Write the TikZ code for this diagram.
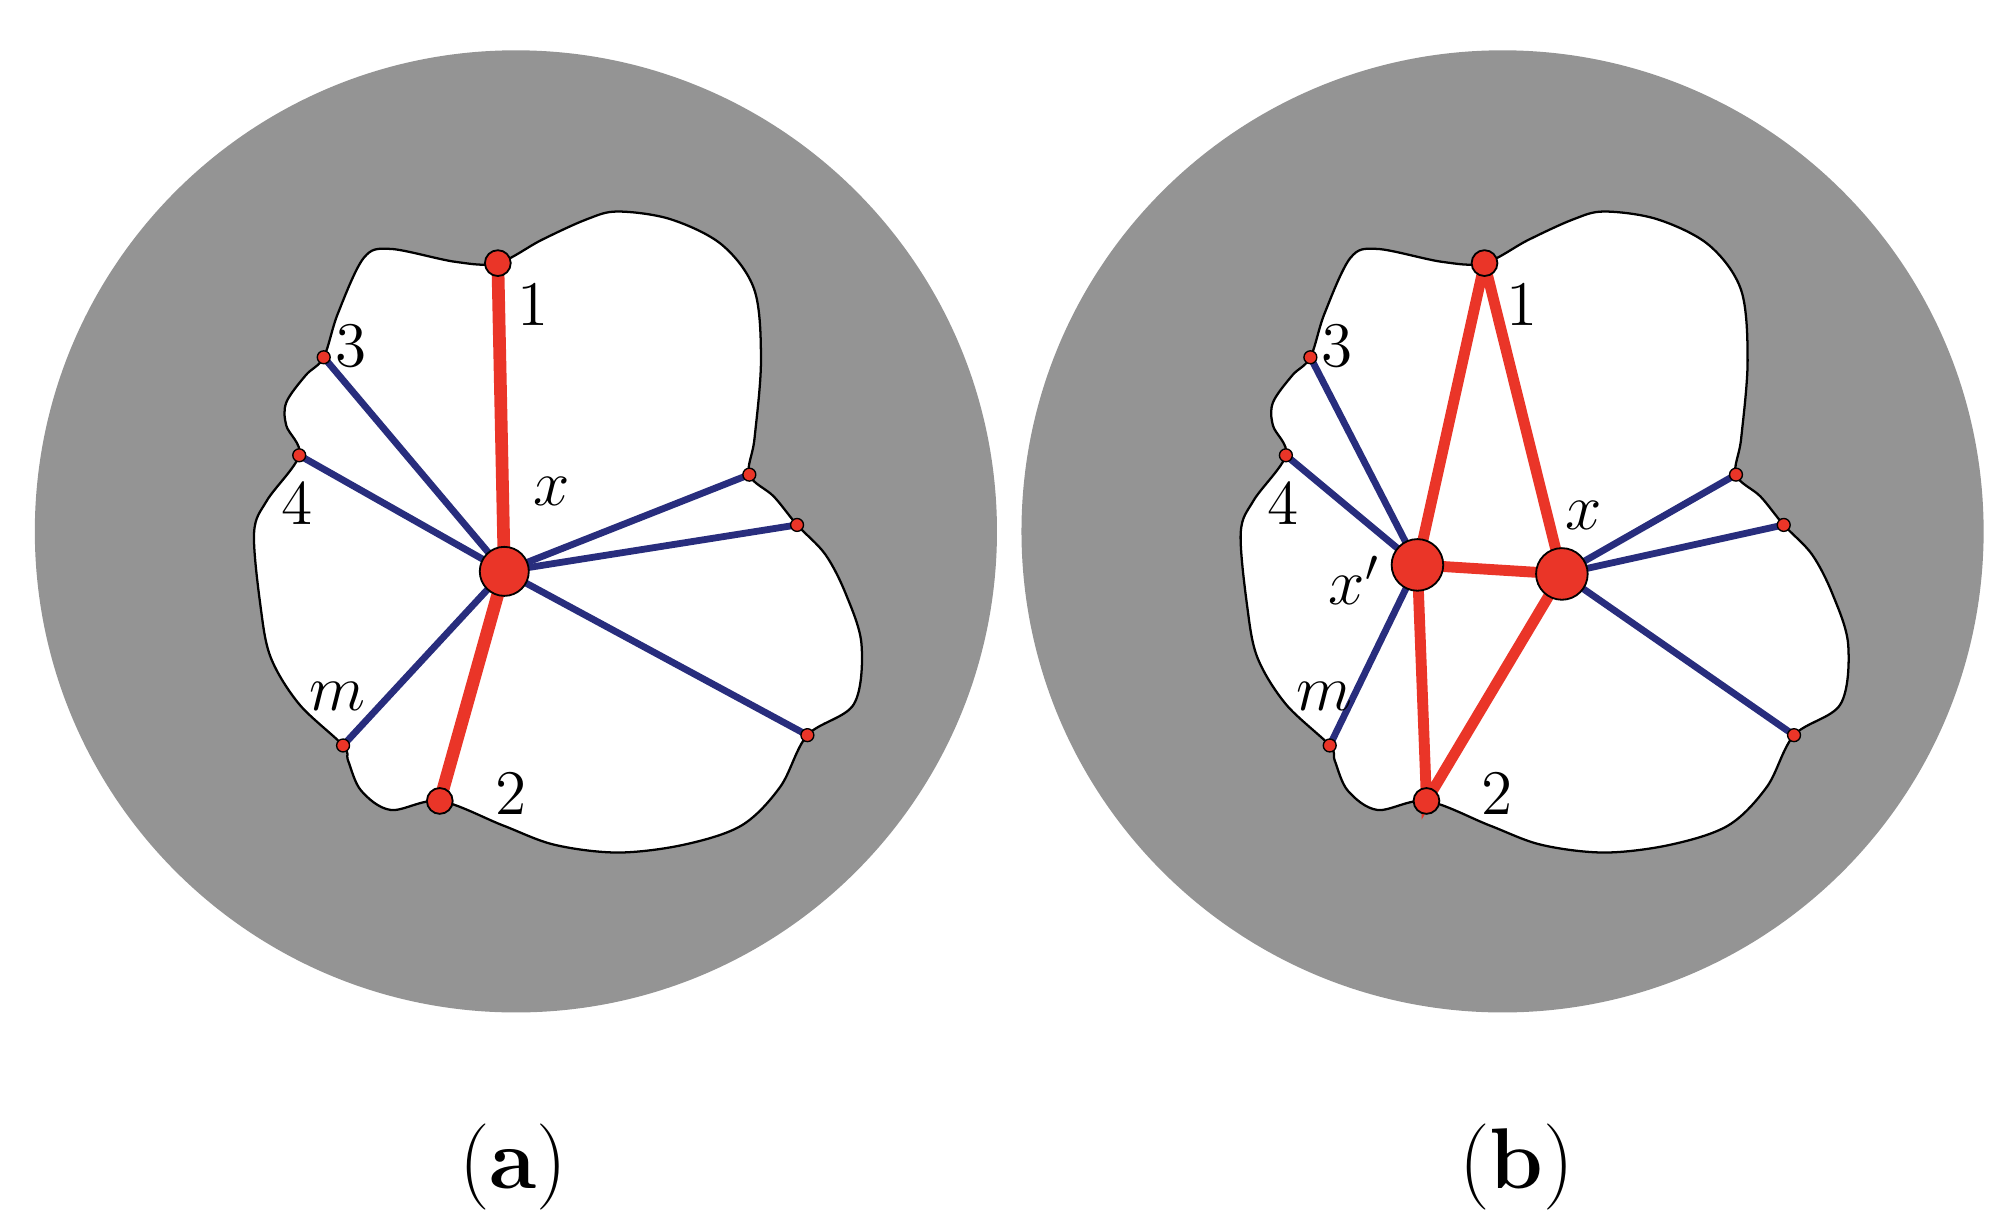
\documentclass[tikz,border=0pt]{standalone}
\usepackage{bm}
\definecolor{rd}{RGB}{234,53,40}
\definecolor{bl}{RGB}{40,45,125}
\definecolor{gr}{RGB}{148,148,148}
\newcommand{\myblob}{plot[smooth cycle,tension=0.55] coordinates{(386,204)(420,186)(455,170)(479,164)(520,170)(560,190)(585,225)(590,280)(585,340)(581,368)(600,385)(618,407)(640,430)(656,461)(668,500)(662,546)(626,570)(605,610)(575,640)(530,655)(479,661)(430,655)(390,640)(341,621)(303,628)(280,613)(270,590)(266,578)(232,546)(210,510)(202,470)(197,413)(207,388)(232,353)(222,330)(222,312)(237,291)(251,277)(262,243)(282,200)(303,193)(353,203)}}
\tikzset{
 lbl/.style={font=\fontsize{14}{16}\selectfont,inner sep=0pt},
 big/.style={circle,fill=rd,draw=black,line width=0.4pt,minimum size=0.38cm,inner sep=0pt},
 mid/.style={circle,fill=rd,draw=black,line width=0.4pt,minimum size=0.2cm,inner sep=0pt},
 sml/.style={circle,fill=rd,draw=black,line width=0.3pt,minimum size=0.1cm,inner sep=0pt},
 bline/.style={draw=bl,line width=1.5pt},
 rline/.style={draw=rd,line width=2.8pt},
}
\begin{document}
\begin{tikzpicture}[x=0.01cm,y=-0.01cm]
\useasboundingbox (0,0) rectangle (1560,945);
% panel a
\fill[gr] (400,412) circle[radius=373];
\draw[fill=white,line width=0.5pt] \myblob;
\coordinate (a1) at (386,204);
\coordinate (a2) at (341,621);
\coordinate (a3) at (251,277);
\coordinate (a4) at (232,353);
\coordinate (am) at (266,578);
\coordinate (ar1) at (581,368);
\coordinate (ar2) at (618,407);
\coordinate (ar3) at (626,570);
\coordinate (ax) at (391,443);
\foreach \p in {a3,a4,am,ar1,ar2,ar3} \draw[bline] (ax) -- (\p);
\draw[rline] (ax) -- (a1);
\draw[rline] (ax) -- (a2);
\foreach \p in {a3,a4,am,ar1,ar2,ar3} \node[sml] at (\p) {};
\node[mid] (n1) at (a1) {};
\node[mid] (n2) at (a2) {};
\node[big] (nx) at (ax) {};
\node[lbl] at (413,236) {1};
\node[lbl] at (272,268) {3};
\node[lbl] at (230,390) {4};
\node[lbl] at (428,381) {$x$};
\node[lbl] at (262,540) {$m$};
\node[lbl] at (396,615) {2};
\node[font=\fontsize{19}{22}\selectfont] at (398,905) {(\textbf{a})};
% panel b
\begin{scope}[shift={(765,0)}]
\fill[gr] (400,412) circle[radius=373];
\draw[fill=white,line width=0.5pt] \myblob;
\coordinate (b1) at (386,204);
\coordinate (b2) at (341,621);
\coordinate (b3) at (251,277);
\coordinate (b4) at (232,353);
\coordinate (bm) at (266,578);
\coordinate (br1) at (581,368);
\coordinate (br2) at (618,407);
\coordinate (br3) at (626,570);
\coordinate (bxp) at (334,438);
\coordinate (bx) at (446,445);
\end{scope}
\foreach \p in {b3,b4,bm} \draw[bline] (bxp) -- (\p);
\foreach \p in {br1,br2,br3} \draw[bline] (bx) -- (\p);
\draw[rline,line width=2.4pt] (b1) -- (bxp) -- (b2) -- (bx) -- (b1);
\draw[rline,line width=2.4pt] (bxp) -- (bx);
\foreach \p in {b3,b4,bm,br1,br2,br3} \node[sml] at (\p) {};
\node[mid] (m1) at (b1) {};
\node[mid] (m2) at (b2) {};
\node[big,minimum size=0.4cm] (mxp) at (bxp) {};
\node[big,minimum size=0.4cm] (mx) at (bx) {};
\node[lbl] at (1180,236) {1};
\node[lbl] at (1037,268) {3};
\node[lbl] at (995,390) {4};
\node[lbl] at (1228,400) {$x$};
\node[lbl] at (1050,450) {$x'$};
\node[lbl] at (1027,540) {$m$};
\node[lbl] at (1161,615) {2};
\node[font=\fontsize{19}{22}\selectfont] at (1176,905) {(\textbf{b})};
\end{tikzpicture}
\end{document}
